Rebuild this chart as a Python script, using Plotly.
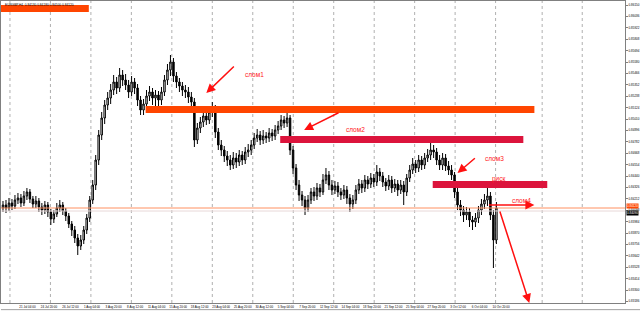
import numpy as np
import plotly.graph_objects as go

# ---------------- data ----------------
close = [0.8415,0.8412,0.8417,0.8414,0.8420,0.8422,0.8417,0.8424,0.8428,0.8421,
         0.8416,0.8419,0.8413,0.8410,0.8415,0.8408,0.8401,0.8406,0.8412,0.8415,
         0.8409,0.8404,0.8396,0.8390,0.8382,0.8374,0.8380,0.8390,0.8402,0.8420,
         0.8435,0.8460,0.8485,0.8502,0.8515,0.8522,0.8530,0.8538,0.8532,0.8545,
         0.8540,0.8535,0.8528,0.8538,0.8532,0.8520,0.8510,0.8516,0.8524,0.8528,
         0.8522,0.8525,0.8520,0.8528,0.8540,0.8550,0.8558,0.8544,0.8538,0.8534,
         0.8530,0.8528,0.8523,0.8518,0.8480,0.8492,0.8498,0.8504,0.8500,0.8508,
         0.8512,0.8488,0.8475,0.8470,0.8464,0.8460,0.8455,0.8462,0.8458,0.8465,
         0.8460,0.8468,0.8470,0.8475,0.8482,0.8485,0.8480,0.8484,0.8482,0.8487,
         0.8484,0.8490,0.8494,0.8500,0.8497,0.8502,0.8470,0.8452,0.8435,0.8425,
         0.8420,0.8412,0.8420,0.8428,0.8424,0.8432,0.8428,0.8440,0.8445,0.8435,
         0.8430,0.8434,0.8428,0.8425,0.8430,0.8422,0.8416,0.8420,0.8430,0.8436,
         0.8432,0.8440,0.8436,0.8442,0.8438,0.8448,0.8444,0.8438,0.8434,0.8440,
         0.8432,0.8436,0.8430,0.8435,0.8428,0.8442,0.8450,0.8456,0.8452,0.8460,
         0.8455,0.8462,0.8465,0.8470,0.8468,0.8460,0.8455,0.8462,0.8454,0.8450,
         0.8445,0.8428,0.8415,0.8410,0.8405,0.8408,0.8400,0.8398,0.8402,0.8410,
         0.8416,0.8420,0.8424,0.8405,0.8380,0.8412]

high = [0.8419,0.8420,0.8422,0.8421,0.8425,0.8427,0.8426,0.8429,0.8432,0.8431,
        0.8424,0.8424,0.8422,0.8417,0.8419,0.8418,0.8411,0.8410,0.8417,0.8420,
        0.8418,0.8412,0.8407,0.8399,0.8394,0.8386,0.8385,0.8394,0.8406,0.8424,
        0.8440,0.8465,0.8490,0.8508,0.8520,0.8528,0.8536,0.8545,0.8543,0.8552,
        0.8550,0.8546,0.8540,0.8544,0.8542,0.8536,0.8524,0.8521,0.8530,0.8534,
        0.8532,0.8530,0.8529,0.8533,0.8545,0.8556,0.8565,0.8562,0.8548,0.8542,
        0.8538,0.8535,0.8533,0.8528,0.8522,0.8497,0.8503,0.8510,0.8512,0.8514,
        0.8518,0.8515,0.8492,0.8480,0.8474,0.8469,0.8465,0.8468,0.8467,0.8470,
        0.8469,0.8473,0.8476,0.8480,0.8487,0.8491,0.8489,0.8490,0.8488,0.8492,
        0.8491,0.8495,0.8499,0.8505,0.8504,0.8507,0.8505,0.8474,0.8456,0.8440,
        0.8429,0.8424,0.8425,0.8432,0.8433,0.8437,0.8436,0.8446,0.8452,0.8449,
        0.8440,0.8439,0.8438,0.8432,0.8435,0.8434,0.8426,0.8425,0.8435,0.8441,
        0.8440,0.8445,0.8444,0.8447,0.8446,0.8455,0.8452,0.8448,0.8442,0.8445,
        0.8444,0.8441,0.8440,0.8440,0.8439,0.8446,0.8455,0.8462,0.8460,0.8465,
        0.8464,0.8467,0.8471,0.8477,0.8475,0.8472,0.8465,0.8467,0.8466,0.8459,
        0.8455,0.8448,0.8432,0.8420,0.8414,0.8413,0.8412,0.8404,0.8407,0.8414,
        0.8421,0.8426,0.8432,0.8428,0.8410,0.8418]

low = [0.8408,0.8407,0.8409,0.8410,0.8411,0.8416,0.8413,0.8414,0.8420,0.8417,
       0.8412,0.8412,0.8408,0.8405,0.8406,0.8403,0.8395,0.8397,0.8403,0.8408,
       0.8405,0.8399,0.8392,0.8384,0.8377,0.8365,0.8370,0.8376,0.8386,0.8398,
       0.8416,0.8430,0.8455,0.8480,0.8496,0.8510,0.8516,0.8525,0.8526,0.8528,
       0.8534,0.8530,0.8522,0.8524,0.8526,0.8514,0.8505,0.8505,0.8512,0.8519,
       0.8515,0.8514,0.8507,0.8515,0.8524,0.8535,0.8544,0.8538,0.8532,0.8528,
       0.8524,0.8522,0.8517,0.8507,0.8473,0.8476,0.8487,0.8493,0.8495,0.8496,
       0.8503,0.8482,0.8470,0.8464,0.8458,0.8454,0.8450,0.8451,0.8452,0.8454,
       0.8455,0.8456,0.8463,0.8465,0.8471,0.8478,0.8475,0.8476,0.8477,0.8478,
       0.8479,0.8480,0.8486,0.8490,0.8492,0.8493,0.8465,0.8446,0.8430,0.8419,
       0.8414,0.8405,0.8408,0.8416,0.8419,0.8420,0.8423,0.8425,0.8436,0.8430,
       0.8425,0.8426,0.8423,0.8420,0.8421,0.8416,0.8408,0.8411,0.8416,0.8426,
       0.8427,0.8428,0.8431,0.8432,0.8433,0.8434,0.8439,0.8433,0.8429,0.8430,
       0.8427,0.8428,0.8424,0.8426,0.8415,0.8424,0.8438,0.8446,0.8447,0.8448,
       0.8450,0.8451,0.8458,0.8460,0.8462,0.8455,0.8450,0.8450,0.8449,0.8445,
       0.8440,0.8422,0.8410,0.8404,0.8398,0.8400,0.8393,0.8390,0.8393,0.8397,
       0.8405,0.8411,0.8414,0.8400,0.8352,0.8376]

first_open = 0.8412
opens = [first_open] + close[:-1]

x_labels = ["20 Jul 2023", "21 Jul 04:00", "24 Jul 20:00", "26 Jul 12:00",
            "1 Aug 04:00", "3 Aug 20:00", "8 Aug 12:00", "11 Aug 04:00",
            "15 Aug 20:00", "18 Aug 12:00", "23 Aug 04:00", "25 Aug 20:00",
            "30 Aug 12:00", "5 Sep 04:00", "7 Sep 20:00", "12 Sep 12:00",
            "14 Sep 04:00", "18 Sep 20:00", "21 Sep 12:00", "25 Sep 04:00",
            "27 Sep 20:00", "3 Oct 12:00", "6 Oct 04:00", "10 Oct 20:00"]

bid_price = 0.8412
ask_price = 0.8409
header = "EURGBP,H4  0.84130 0.84180 0.84100 0.84120"

# zones: (start bar, end bar, lower price, upper price, colour)
zones = [(-0.7, 28.7, 0.8608, 0.8615, "#FF4500"),
         (47.7, 177.7, 0.8507, 0.8514, "#FF4500"),
         (92.7, 174.0, 0.8477, 0.8484, "#DC143C"),
         (143.7, 182.0, 0.8432, 0.8439, "#DC143C")]

# labels: (bar, price, text)
notes = [(84.2, 0.8546, "слом1"),
         (118.0, 0.8491, "слом2"),
         (164.3, 0.8462, "слом3"),
         (165.7, 0.8441, "риск"),
         (173.3, 0.8420, "слом4")]

# arrows: (tail bar, tail price, tip bar, tip price)
arrows = [(77.7, 0.8555, 68.0, 0.8527),
          (112.7, 0.8508, 100.7, 0.8490),
          (158.3, 0.8463, 152.0, 0.8447),
          (162.0, 0.8415, 177.7, 0.8415),
          (166.0, 0.8410, 176.0, 0.8317)]

# ---------------- figure ----------------
FONT = "Liberation Sans"
idx = list(range(len(close)))

fig = go.Figure(go.Candlestick(
    x=idx, open=opens, high=high, low=low, close=close,
    increasing=dict(line=dict(color="black", width=1), fillcolor="white"),
    decreasing=dict(line=dict(color="black", width=1), fillcolor="black"),
    whiskerwidth=0, hoverinfo="skip", showlegend=False))

shapes = []
# weekly dotted grid
grid = [2.33 + 13.533 * k for k in range(13)] + [180.3, 193.7]
for g in grid:
    shapes.append(dict(type="line", xref="x", yref="paper", x0=g, x1=g, y0=0, y1=1,
                       line=dict(color="#B0B0B0", width=1, dash="dot"), layer="below"))
# price lines
shapes.append(dict(type="line", xref="paper", yref="y", x0=0, x1=1, y0=ask_price, y1=ask_price,
                   line=dict(color="#E8D8D8", width=1)))
shapes.append(dict(type="line", xref="paper", yref="y", x0=0, x1=1, y0=bid_price, y1=bid_price,
                   line=dict(color="#FF9060", width=1)))
# zones
for x0, x1, y0, y1, col in zones:
    shapes.append(dict(type="rect", xref="x", yref="y", x0=x0, x1=x1, y0=y0, y1=y1,
                       fillcolor=col, line=dict(width=0), layer="above"))
# bottom scrollbar line
shapes.append(dict(type="line", xref="paper", yref="paper", x0=0, x1=1.03, y0=-0.022, y1=-0.022,
                   line=dict(color="#A0A0A0", width=1)))

annotations = []
for xt, yt, xh, yh in arrows:
    annotations.append(dict(x=xh, y=yh, ax=xt, ay=yt, xref="x", yref="y", axref="x", ayref="y",
                            text="", showarrow=True, arrowhead=2, arrowsize=1.2,
                            arrowwidth=1.5, arrowcolor="#FF1010"))
for xt, yt, t in notes:
    annotations.append(dict(x=xt, y=yt, xref="x", yref="y", text=t, showarrow=False,
                            font=dict(family=FONT, size=6.5, color="#FF2020")))
annotations.append(dict(x=0.003, y=1.0, xref="paper", yref="paper", text=header,
                        showarrow=False, xanchor="left", yanchor="top",
                        font=dict(family=FONT, size=3.2, color="black")))
annotations.append(dict(x=1.0, y=bid_price, xref="paper", yref="y", text=f"{bid_price:.5f}",
                        showarrow=False, xanchor="left", yanchor="bottom", xshift=1, yshift=-1,
                        bgcolor="#FF4500", borderpad=0,
                        font=dict(family=FONT, size=3.0, color="white")))
annotations.append(dict(x=1.0, y=bid_price, xref="paper", yref="y", text=f"{ask_price:.5f}",
                        showarrow=False, xanchor="left", yanchor="top", xshift=1, yshift=-1.5,
                        bgcolor="black", borderpad=0,
                        font=dict(family=FONT, size=3.0, color="white")))

tick_x = [0.33] + [8.17 + 7.2 * k for k in range(len(x_labels) - 1)]
tick_y = np.round(0.8615 - 0.00114 * np.arange(27), 5)

fig.update_layout(
    width=640, height=313,
    margin=dict(l=0, r=14, t=1, b=10),
    paper_bgcolor="white", plot_bgcolor="white",
    shapes=shapes, annotations=annotations,
    showlegend=False,
    xaxis=dict(range=[-0.667, 208.0], rangeslider=dict(visible=False),
               showgrid=False, zeroline=False, showline=True, mirror=True,
               linecolor="#808080", linewidth=1,
               tickmode="array", tickvals=tick_x, ticktext=x_labels, tickangle=0,
               ticks="", tickfont=dict(family=FONT, size=3, color="black")),
    yaxis=dict(range=[0.8317, 0.8619], side="right", showgrid=False, zeroline=False,
               showline=True, mirror=True, linecolor="#808080", linewidth=1,
               tickmode="array", tickvals=tick_y, tickformat=".5f",
               ticks="outside", ticklen=2, tickcolor="#808080",
               tickfont=dict(family=FONT, size=3, color="black")),
)

fig.write_html("out.html")
